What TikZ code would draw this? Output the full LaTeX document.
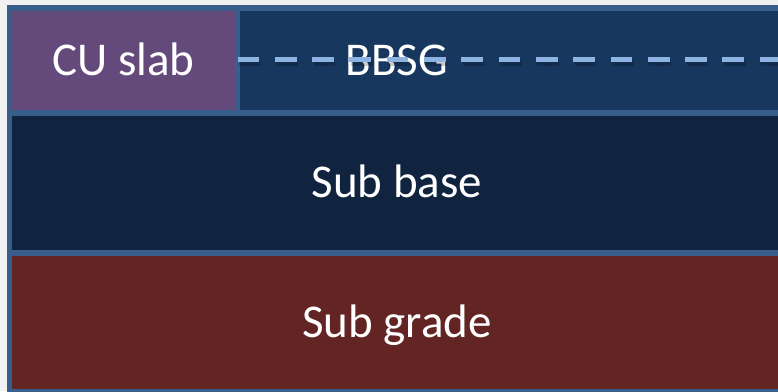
\documentclass[tikz,border=0pt]{standalone}
\usepackage{fontspec}
\setmainfont{Carlito}
\usepackage{tikz}
\usetikzlibrary{positioning}

\definecolor{bgcolor}{HTML}{F1F1F1}
\definecolor{framecolor}{HTML}{3A5E8B}
\definecolor{slabcolor}{HTML}{634A7B}
\definecolor{bbsgcolor}{HTML}{17375E}
\definecolor{basecolor}{HTML}{10243F}
\definecolor{gradecolor}{HTML}{632523}
\definecolor{dashcolor}{HTML}{8DB3E2}

\newcommand{\layerfont}{\fontsize{47}{56}\selectfont}

\begin{document}
\begin{tikzpicture}[
  x=1pt, y=-1pt,
  layer/.style={rectangle,inner sep=0pt,outer sep=0pt,text=white,font=\layerfont,
    minimum width=770pt,text height=29pt,text depth=0pt},
  joint/.style={dashcolor,line width=5pt,dash pattern=on 21.7pt off 15.6pt}]
\useasboundingbox (0,0) rectangle (778,391);
\clip (0,0) rectangle (778,391);
\fill[bgcolor] (0,0) rectangle (778,391);
\fill[framecolor] (7,5) rectangle (790,400);

% layers, top to bottom
\node[layer,fill=bbsgcolor,minimum height=99pt] (bbsg) at (397,60.5) {BBSG};
\node[layer,fill=slabcolor,draw=framecolor,line width=5pt,minimum width=228pt,minimum height=104pt] (slab) at (123.5,60.5) {CU slab};
\node[layer,fill=basecolor,minimum height=134pt] (base) at (397,183) {Sub base};
\node[layer,fill=gradecolor,minimum height=133pt] (grade) at (397,322.5) {Sub grade};

% joint in the BBSG layer
\draw[joint,black,opacity=0.2] ([shift={(1.5pt,-2.5pt)}]slab.east) -- ([shift={(1.5pt,-2.5pt)}]bbsg.east);
\draw[joint] ([yshift=1.5pt]slab.east) -- ([yshift=1.5pt]bbsg.east);
\end{tikzpicture}
\end{document}
